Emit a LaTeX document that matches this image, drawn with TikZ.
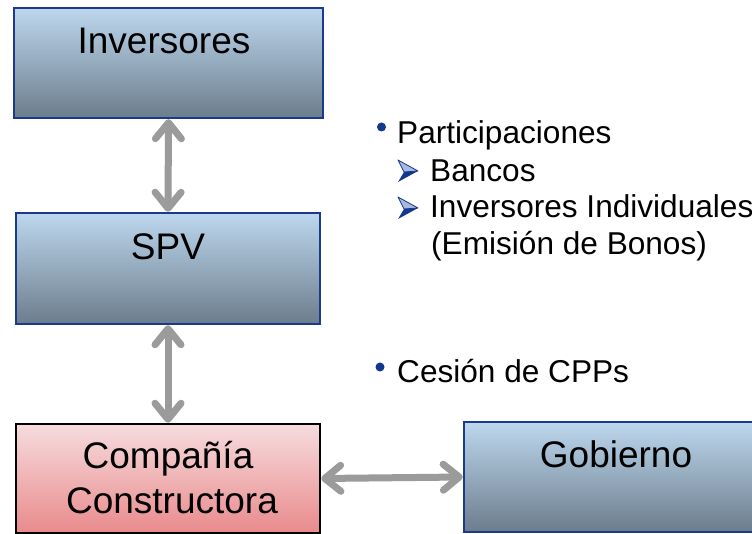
\documentclass[tikz,border=0pt]{standalone}
\usepackage{fontspec}
\setmainfont{Liberation Sans}
\usetikzlibrary{arrows.meta,calc}
\definecolor{boxblue}{HTML}{1C3A8C}
\definecolor{bluetop}{HTML}{BDD7EE}
\definecolor{bluemid}{HTML}{9CB2C6}
\definecolor{bluebot}{HTML}{6C7D8C}
\definecolor{pinktop}{HTML}{F6DCDE}
\definecolor{pinkmid}{HTML}{F0B5B7}
\definecolor{pinkbot}{HTML}{E98A8C}
\definecolor{arrgray}{HTML}{9B9B9B}
\definecolor{navy}{HTML}{12388E}
\definecolor{navylight}{HTML}{A9B8DD}
\newcommand{\abullet}[1]{%
  \begin{scope}[shift={#1}]
    \filldraw[fill=navylight, draw=navy, line width=0.8pt, line join=round] (0,-11) -- (20,0) -- (6,1) -- cycle;
    \fill[navy] (6,1) -- (20,0) -- (0,11) -- cycle;
  \end{scope}}
\begin{document}
\begin{tikzpicture}[x=1pt,y=-1pt,
  bluebox/.style={draw=boxblue, line width=2.5pt, top color=bluetop, middle color=bluemid, bottom color=bluebot, minimum width=304pt, minimum height=110pt, inner sep=0pt},
  pinkbox/.style={draw=black, line width=2.5pt, top color=pinktop, middle color=pinkmid, bottom color=pinkbot, minimum width=304pt, minimum height=109pt, inner sep=0pt},
  boxtxt/.style={font=\fontsize{37}{45}\selectfont, inner sep=0pt, anchor=base},
  btxt/.style={font=\fontsize{31.6}{37}\selectfont, inner sep=0pt, anchor=base west},
  conn/.style={draw=arrgray, line width=7pt, {Straight Barb[length=16pt,width=26pt,round]}-{Straight Barb[length=16pt,width=26pt,round]}},
  dot/.style={circle, fill=navy, inner sep=0pt, minimum size=9pt}
]
\clip (0,0) rectangle (752,534);
\fill[white] (0,0) rectangle (752,534);

% boxes
\node[bluebox, minimum width=309pt] (inv) at (168.5,63) {};
\node[bluebox, minimum height=111pt] (spv) at (168,268.5) {};
\node[pinkbox] (comp) at (168,478.5) {};
\node[bluebox] (gob) at (616,477) {};

% box texts
\node[boxtxt] (invt) at (164,54) {Inversores};
\node[boxtxt] (spvt) at (168,260) {SPV};
\node[boxtxt] (comp1) at (168,468) {Compañía};
\node[boxtxt] (comp2) at (172,513) {Constructora};
\node[boxtxt] (gobt) at (616,467) {Gobierno};

% connectors
\draw[conn] (inv.south) -- (spv.north);
\draw[conn] (spv.south) -- (comp.north);
\draw[conn] (comp.east) -- (gob.west);

% bullet texts
\node[dot] (d1) at (381.5,127) {};
\node[btxt] (t1) at (397,144) {Participaciones};
\abullet{(398,171)}
\node[btxt] (t2) at (430,182) {Bancos};
\abullet{(398,208)}
\node[btxt] (t3) at (430,218) {Inversores Individuales};
\node[btxt] (t4) at (431,255) {(Emisión de Bonos)};
\node[dot] (d2) at (380,367) {};
\node[btxt] (t5) at (397,382) {Cesión de CPPs};
\end{tikzpicture}
\end{document}
